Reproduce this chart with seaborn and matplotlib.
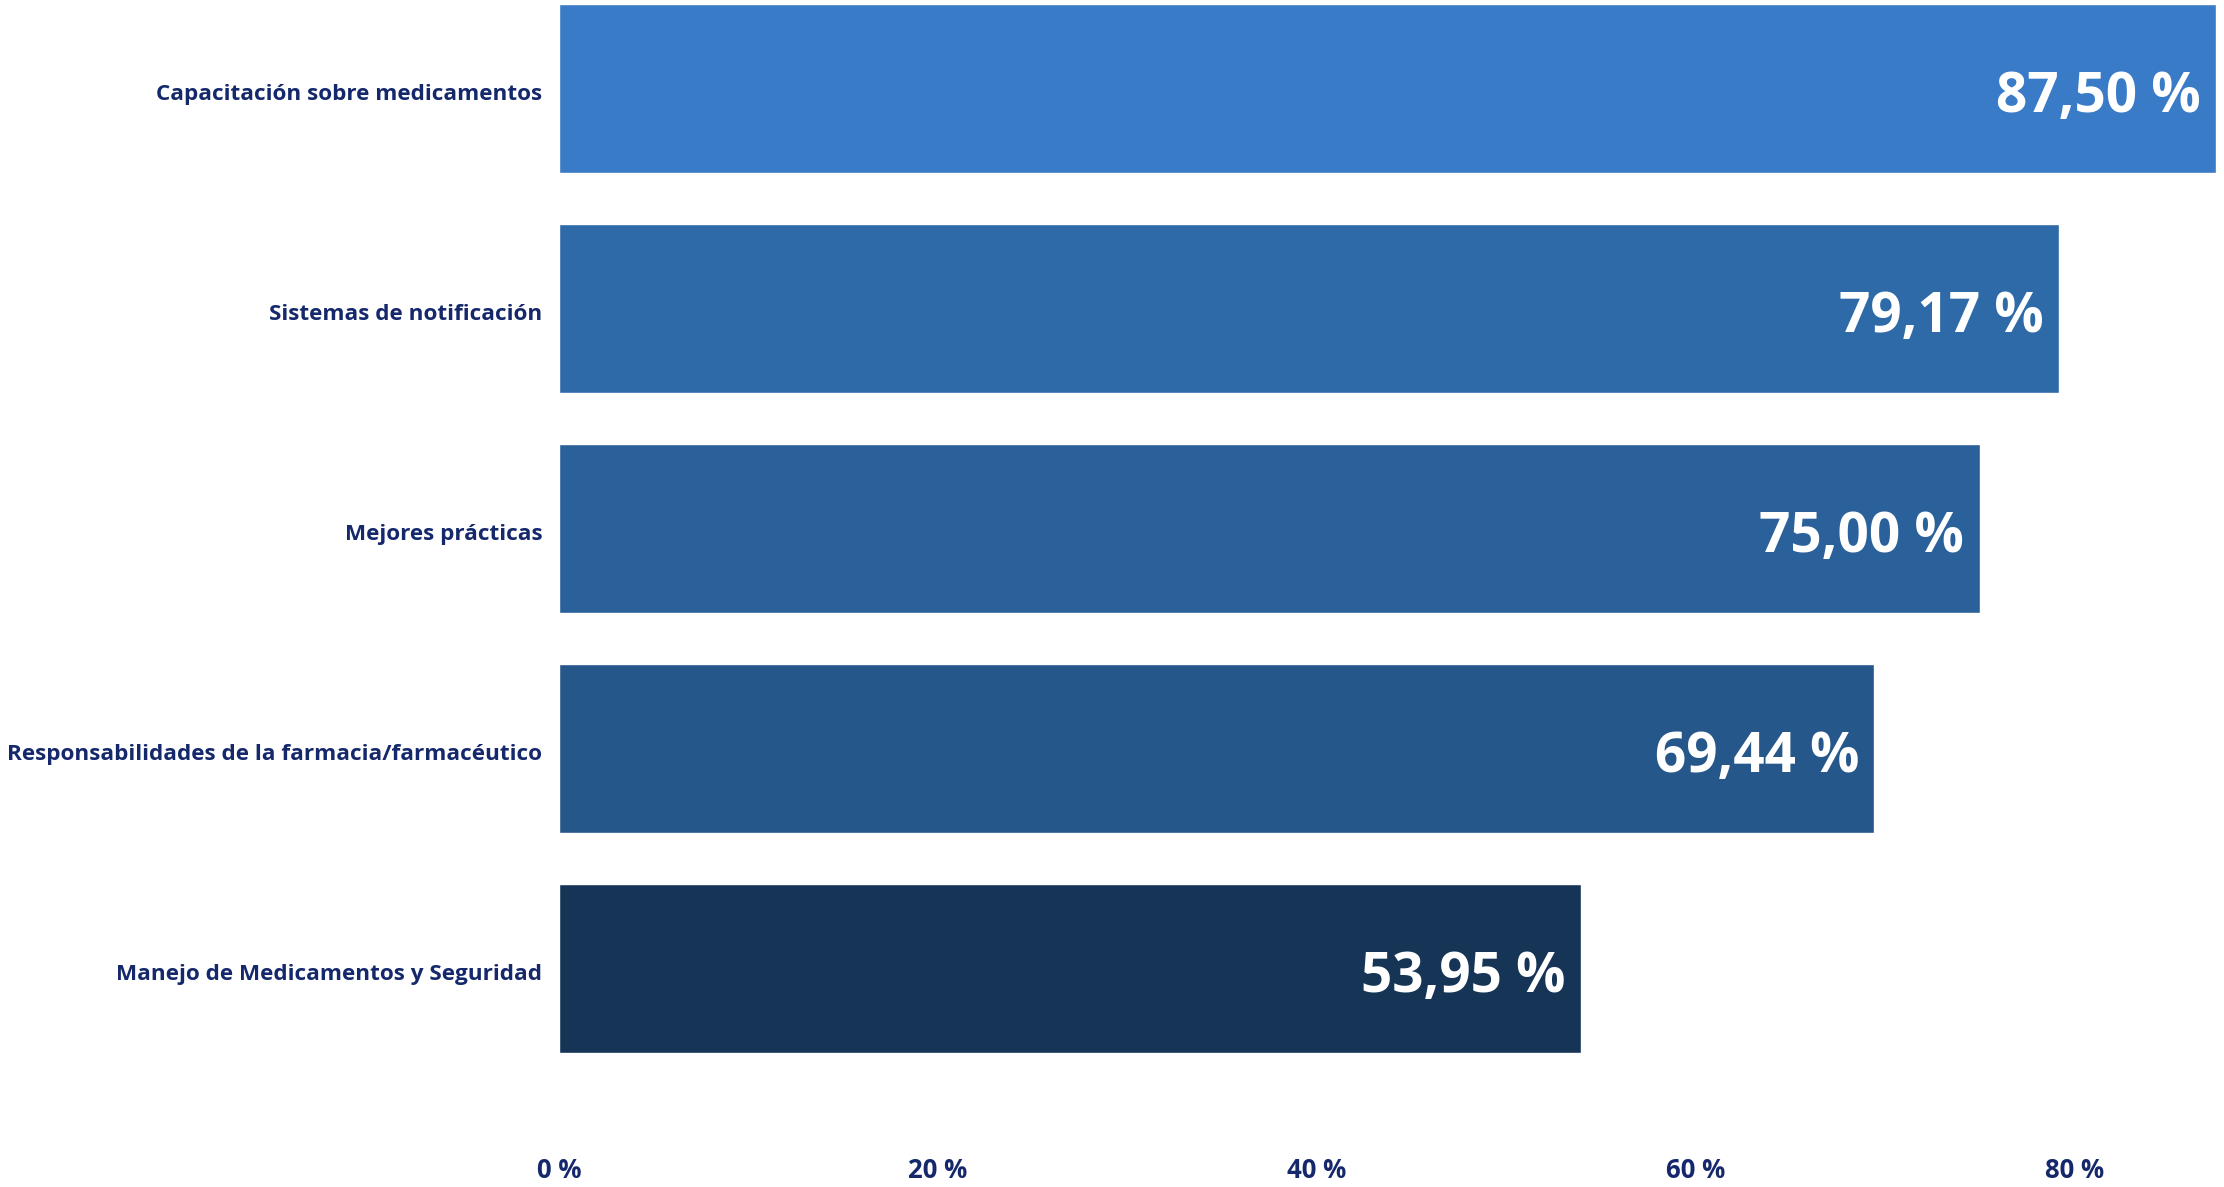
import matplotlib
matplotlib.use("Agg")
import matplotlib.pyplot as plt
import seaborn as sns
import pandas as pd
from matplotlib.ticker import FuncFormatter
from matplotlib.transforms import ScaledTranslation

categories = [
    "Capacitación sobre medicamentos",
    "Sistemas de notificación",
    "Mejores prácticas",
    "Responsabilidades de la farmacia/farmacéutico",
    "Manejo de Medicamentos y Seguridad",
]
values = [87.50, 79.17, 75.00, 69.44, 53.95]
bar_colors = ["#3A7BC7", "#2F6AA8", "#2B619A", "#26578A", "#163556"]
x_ticks = [0, 20, 40, 60, 80]

sns.set_theme(style="white")
plt.rcParams["font.family"] = ["Open Sans", "DejaVu Sans"]

W, H, DPI = 2224, 1187, 100
fig = plt.figure(figsize=(W / DPI, H / DPI), dpi=DPI)
left_px, bottom_px = 559, 1140
ax = fig.add_axes([left_px / W, 1 - bottom_px / H, 1 - left_px / W, bottom_px / H])

df = pd.DataFrame({"cat": categories, "val": values})
sns.barplot(data=df, x="val", y="cat", hue="cat", palette=bar_colors,
            legend=False, width=0.77, ax=ax, orient="h", saturation=1)

ax.set_xlim(0, 87.9)
ax.set_ylim(4.7805, -0.4013)
ax.set_xticks(x_ticks)
ax.xaxis.set_major_formatter(FuncFormatter(lambda v, p: f"{int(v)} %"))
ax.set_xlabel("")
ax.set_ylabel("")
for s in ax.spines.values():
    s.set_visible(False)
ax.tick_params(axis="both", length=0)
ax.tick_params(axis="x", pad=12, labelsize=18.5, labelcolor="#14286B")
ax.tick_params(axis="y", pad=12, labelsize=16.2, labelcolor="#14286B")
for lbl in ax.get_xticklabels() + ax.get_yticklabels():
    lbl.set_fontweight("bold")
shift = ScaledTranslation(0, -3.0 / 72, fig.dpi_scale_trans)
for lbl in ax.get_yticklabels():
    lbl.set_transform(lbl.get_transform() + shift)

for i, v in enumerate(values):
    txt = f"{v:.2f}".replace(".", ",") + " %"
    ax.annotate(txt, xy=(v, i), xytext=(-11, -6.5), textcoords="offset points",
                ha="right", va="center", color="white", fontsize=39.5,
                fontweight="bold")

fig.savefig("out.png", dpi=DPI, facecolor="white")
